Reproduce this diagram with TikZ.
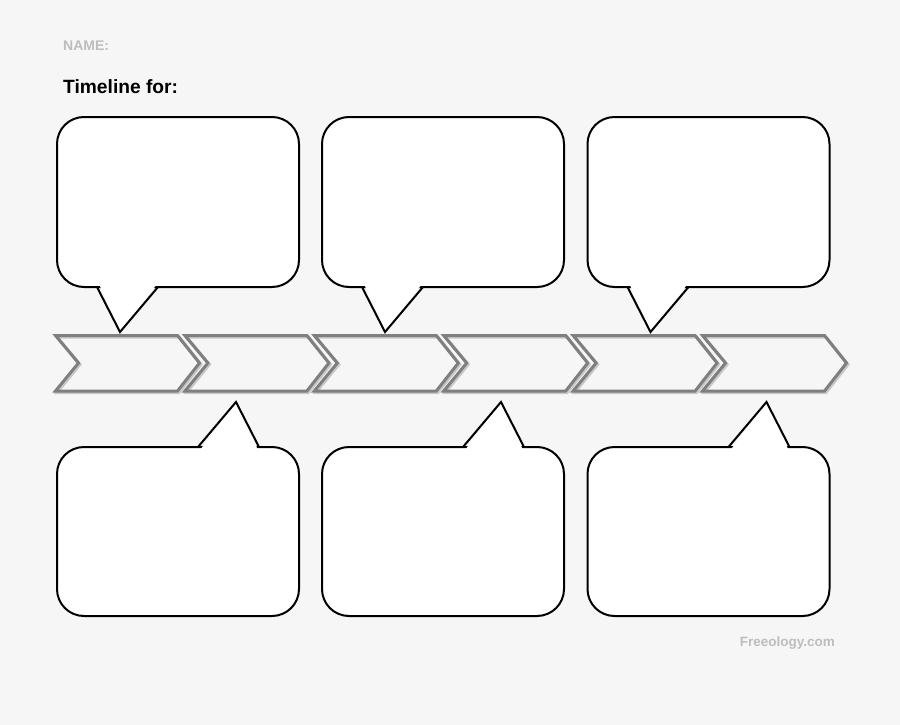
\documentclass[tikz,border=0pt]{standalone}
\usepackage{fontspec}
\setmainfont{Liberation Sans}
\usetikzlibrary{calc}
\definecolor{pagebg}{HTML}{F6F6F6}
\definecolor{chevgray}{HTML}{7F7F7F}
\definecolor{chevshade}{HTML}{C8C8C8}
\definecolor{notegray}{HTML}{BDBDBD}
\tikzset{
        bubble/.style={draw=black, line width=2pt, fill=white, rounded corners=27pt,
                minimum width=242pt, minimum height=170pt, inner sep=0pt, outer sep=0pt},
        tail/.style={draw=black, line width=2pt, line join=miter, line cap=round},
        chevron/.style={draw=chevgray, line width=3pt, line join=miter},
        chevronshade/.style={draw=chevshade, line width=3pt, line join=miter}
}

\begin{document}
\begin{tikzpicture}[x=1pt,y=-1pt]
        \fill[pagebg] (0,0) rectangle (900,725);
        \useasboundingbox (0,0) rectangle (900,725);

        \node (name) [anchor=base west, inner sep=0pt, text=notegray,
                font=\fontsize{14}{16}\selectfont\bfseries] at (63,50.5) {NAME:};
        \node (title) [anchor=base west, inner sep=0pt,
                font=\fontsize{19.2}{22}\selectfont\bfseries] at (63,93) {Timeline for:};
        \node (site) [anchor=base east, inner sep=0pt, text=notegray,
                font=\fontsize{13.5}{15}\selectfont\bfseries] at (835,646) {Freeology.com};

        \foreach \i in {0,...,5} {
                \pgfmathsetmacro\cx{55.5+129.4*\i}
                \draw[chevronshade, xshift=\cx+1.5, yshift=-1.5]
                        (0,335.5) -- (122,335.5) -- (144,363) -- (122,391) -- (0,391) -- (23,363) -- cycle;
                \draw[chevron, xshift=\cx]
                        (0,335.5) -- (122,335.5) -- (144,363) -- (122,391) -- (0,391) -- (23,363) -- cycle;
        }

        \foreach \i/\x in {1/178,2/443,3/708.5} {
                \node (top\i) [bubble] at (\x,202) {};
                \fill[white] ($(top\i.south west)+(42,-3)$) -- ($(top\i.south west)+(63,45)$)
                        -- ($(top\i.south west)+(100,-3)$) -- cycle;
                \draw[tail] ($(top\i.south west)+(40,0)$) -- ($(top\i.south west)+(63,45)$)
                        -- ($(top\i.south west)+(101,0)$);

                \node (bot\i) [bubble, minimum height=169pt] at (\x,531.5) {};
                \fill[white] ($(bot\i.north west)+(143,3)$) -- ($(bot\i.north west)+(179,-45)$)
                        -- ($(bot\i.north west)+(201,3)$) -- cycle;
                \draw[tail] ($(bot\i.north west)+(141,0)$) -- ($(bot\i.north west)+(179,-45)$)
                        -- ($(bot\i.north west)+(202,0)$);
        }
\end{tikzpicture}
\end{document}
